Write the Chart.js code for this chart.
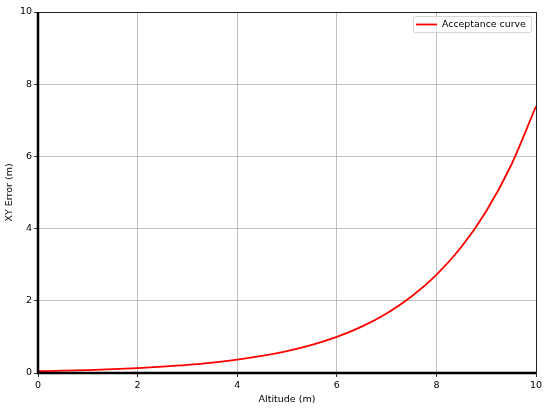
<!DOCTYPE html>
<html>
<head>
<meta charset="utf-8">
<script src="https://cdn.jsdelivr.net/npm/chart.js@4"></script>
<style>
  html, body { margin: 0; padding: 0; background: #fff; }
  #wrap { width: 550px; height: 409px; }
</style>
</head>
<body>
<div id="wrap"><canvas id="myChart"></canvas></div>
<script>
const altitude = [0, 0.5, 1, 1.5, 2, 2.5, 3, 3.5, 4, 4.5, 5, 5.5, 6, 6.5, 7, 7.5, 8, 8.5, 9, 9.5, 10];
const xyError = [0.050, 0.064, 0.082, 0.105, 0.135, 0.174, 0.223, 0.287, 0.368, 0.472, 0.607,
                 0.779, 1.0, 1.284, 1.649, 2.117, 2.718, 3.490, 4.482, 5.755, 7.389];
const xTicks = [0, 2, 4, 6, 8, 10];
const yTicks = [0, 2, 4, 6, 8, 10];

const font = { family: 'DejaVu Sans', size: 9.5 };

// frame + in-plot legend, matplotlib style
const framePlugin = {
  id: 'frame',
  afterDraw(chart) {
    const { ctx, chartArea: a } = chart;
    ctx.save();
    ctx.strokeStyle = '#222';
    ctx.lineWidth = 1;
    ctx.beginPath();
    ctx.moveTo(a.left, a.top + 0.5);
    ctx.lineTo(a.right + 0.5, a.top + 0.5);
    ctx.lineTo(a.right + 0.5, a.bottom);
    ctx.stroke();
    ctx.strokeStyle = '#000';
    ctx.lineWidth = 2.5;
    ctx.beginPath();
    ctx.moveTo(a.left, a.top);
    ctx.lineTo(a.left, a.bottom);
    ctx.lineTo(a.right, a.bottom);
    ctx.stroke();

    // legend
    const ds = chart.data.datasets[0];
    const bx = 413, by = 16, bw = 118, bh = 16;
    ctx.fillStyle = 'rgba(255,255,255,0.8)';
    ctx.strokeStyle = '#d6d6d6';
    ctx.lineWidth = 1;
    ctx.beginPath();
    ctx.roundRect(bx + 0.5, by + 0.5, bw, bh, 2);
    ctx.fill();
    ctx.stroke();
    ctx.strokeStyle = ds.borderColor;
    ctx.lineWidth = 1.8;
    ctx.beginPath();
    ctx.moveTo(bx + 3, by + 8.5);
    ctx.lineTo(bx + 24, by + 8.5);
    ctx.stroke();
    ctx.fillStyle = '#000';
    ctx.font = '9.4px "DejaVu Sans"';
    ctx.textBaseline = 'middle';
    ctx.fillText(ds.label, bx + 29, by + 8.5);
    ctx.restore();
  }
};

new Chart(document.getElementById('myChart'), {
  type: 'line',
  data: {
    datasets: [{
      label: 'Acceptance curve',
      data: altitude.map((x, i) => ({ x: x, y: xyError[i] })),
      borderColor: '#ff0000',
      borderWidth: 1.8,
      pointRadius: 0,
      cubicInterpolationMode: 'monotone',
      fill: false
    }]
  },
  options: {
    responsive: true,
    maintainAspectRatio: false,
    animation: false,
    layout: { padding: { top: 12, right: 14, left: 0, bottom: 0 } },
    plugins: { legend: { display: false }, tooltip: { enabled: false } },
    scales: {
      x: {
        type: 'linear',
        min: 0, max: 10,
        afterBuildTicks: s => { s.ticks = xTicks.map(v => ({ value: v })); },
        afterFit: s => { s.height = 36; },
        ticks: { color: '#000', font: font, padding: 3, maxRotation: 0 },
        grid: { color: '#b0b0b0', lineWidth: 0.8, tickLength: 4, tickColor: '#000' },
        border: { display: false },
        title: { display: true, text: 'Altitude (m)', color: '#000', font: font, padding: { top: 3 } }
      },
      y: {
        type: 'linear',
        min: 0, max: 10,
        afterBuildTicks: s => { s.ticks = yTicks.map(v => ({ value: v })); },
        afterFit: s => { s.width = 38; },
        ticks: { color: '#000', font: font, padding: 2 },
        grid: { color: '#b0b0b0', lineWidth: 0.8, tickLength: 4, tickColor: '#000' },
        border: { display: false },
        title: { display: true, text: 'XY Error (m)', color: '#000', font: font, padding: { bottom: 2 } }
      }
    }
  },
  plugins: [framePlugin]
});
</script>
</body>
</html>
